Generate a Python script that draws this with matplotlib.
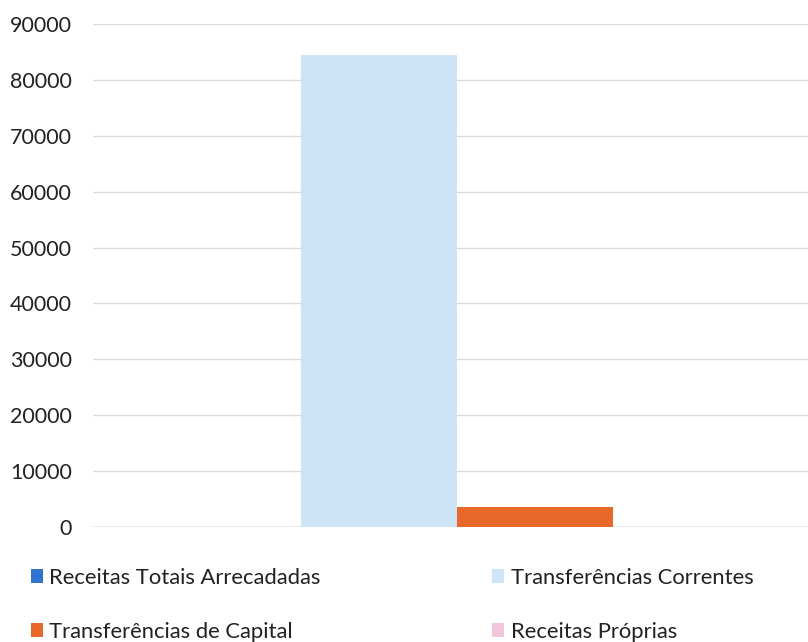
import matplotlib
matplotlib.use("Agg")
import matplotlib.pyplot as plt
from matplotlib.patches import Patch

series = ["Receitas Totais Arrecadadas", "Transferências Correntes",
          "Transferências de Capital", "Receitas Próprias"]
values = [0, 84500, 3500, 0]
colors = ["#2F74CF", "#CDE4F7", "#E8682A", "#F2C6DB"]
yticks = [0, 10000, 20000, 30000, 40000, 50000, 60000, 70000, 80000, 90000]

plt.rcParams['font.family'] = ['Lato', 'DejaVu Sans']

fig = plt.figure(figsize=(8.08, 6.42), dpi=100)
ax = fig.add_axes([93/808, 1-527/642, (821-93)/808, (527-24)/642])

bw = 156/728
n = len(values)
for i, (v, c) in enumerate(zip(values, colors)):
    x = (i - (n-1)/2) * bw
    ax.bar(x, v, width=bw, color=c, zorder=2, linewidth=0)

ax.set_xlim(-0.5, 0.5)
ax.set_ylim(0, 90000)
ax.set_yticks(yticks)
ax.set_yticklabels([str(t) for t in yticks], fontsize=15.5, color="#222222")
ax.tick_params(axis='y', length=0, pad=15)
ax.set_xticks([])
ax.grid(axis='y', color="#DADADF", linewidth=1, zorder=0)
for s in ax.spines.values():
    s.set_visible(False)
ax.axhline(0, color="#A8A8B0", linewidth=1, zorder=1)

handles = [Patch(facecolor=c, edgecolor='none') for c in colors]
order = [0, 2, 1, 3]  # row-major display in two columns
fig.legend([handles[i] for i in order], [series[i] for i in order],
           loc='upper left', bbox_to_anchor=(22/808, 1-559/642),
           ncol=2, frameon=False, fontsize=15.8, handlelength=0.55, handleheight=0.55,
           handletextpad=0.3, columnspacing=7.8, labelspacing=1.55, borderaxespad=0,
           labelcolor="#222222")

fig.savefig("out.png", dpi=100)
